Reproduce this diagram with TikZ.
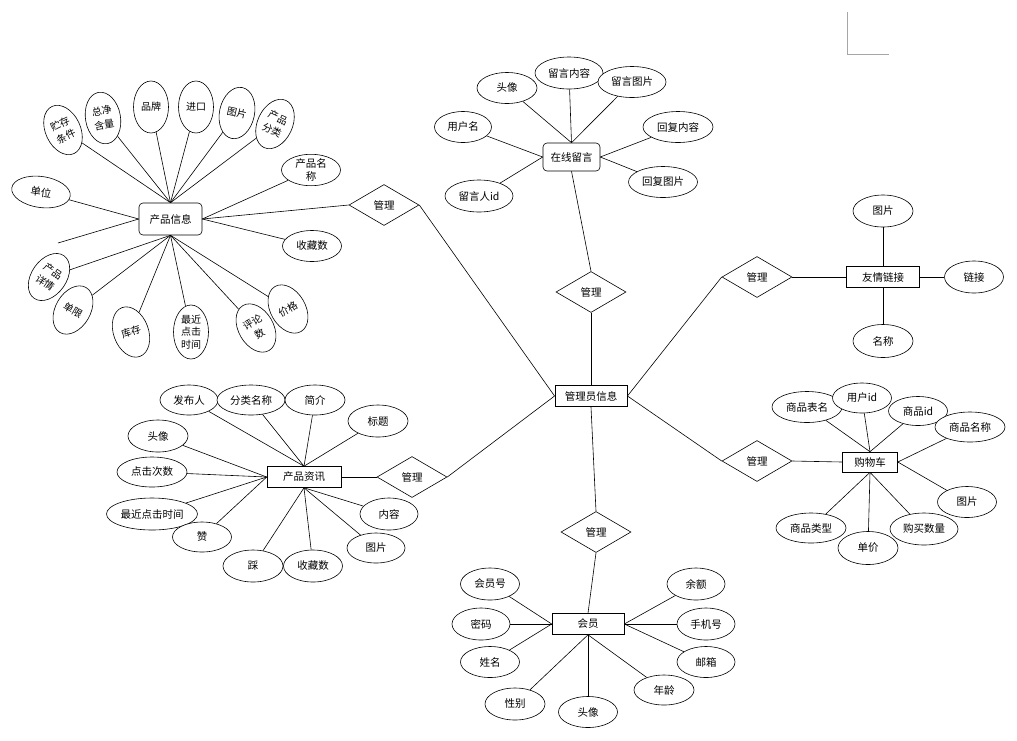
\documentclass[tikz,border=0pt]{standalone}
\usepackage{fontspec}
\setmainfont{Noto Sans CJK SC}
\usetikzlibrary{shapes.geometric}
\begin{document}
\begin{tikzpicture}[x=1pt,y=-1pt, line width=0.6pt,
 every node/.style={font=\fontsize{10.5}{12.5}\selectfont},
 attr/.style={draw, fill=white, ellipse, minimum width=59pt, minimum height=31pt, inner sep=0pt, align=center},
 vattr/.style={draw, fill=white, ellipse, minimum width=35pt, minimum height=52pt, inner sep=0pt, align=center, font=\fontsize{10}{14}\selectfont},
 ent/.style={draw, fill=white, rectangle, minimum height=21pt, inner sep=0pt},
 rent/.style={draw, fill=white, rectangle, rounded corners=4pt, inner sep=0pt},
 rel/.style={draw, fill=white, diamond, minimum width=70pt, minimum height=41pt, inner sep=0pt},
]
\useasboundingbox (0,0) rectangle (1017,740);
\draw[gray!70, line width=0.8pt] (847,12) -- (847,54) -- (889,54);

% ---------- 产品信息 ----------
\node[rent, minimum width=63pt, minimum height=32pt] (pi) at (170.5,219) {产品信息};
\node[vattr, rotate=25] (p1) at (63,130) {贮存\\条件};
\node[vattr, rotate=10] (p2) at (103,118) {总净\\含量};
\node[vattr] (p3) at (151,107) {品牌};
\node[vattr] (p4) at (196,107) {进口};
\node[vattr, rotate=-12] (p5) at (237,113) {图片};
\node[vattr, rotate=-25] (p6) at (275,124) {产品\\分类};
\node[attr] (p7) at (311,170) {产品名\\称};
\node[attr, rotate=-8] (p8) at (41,192) {单位};
\node[attr] (p9) at (312,246) {收藏数};
\node[vattr, rotate=-35] (p10) at (49,277) {产品\\详情};
\node[vattr, rotate=-30] (p11) at (73,310) {单限};
\node[vattr, rotate=20] (p12) at (131,332) {库存};
\node[vattr, minimum height=54pt, font=\fontsize{10}{12.5}\selectfont] (p13) at (191,332) {最近\\点击\\时间};
\node[vattr, rotate=30] (p14) at (256,328) {评论\\数};
\node[vattr, rotate=30] (p15) at (288,309) {价格};
\coordinate (pfree) at (58,243);
\foreach \i in {1,...,6} \draw (pi.north) -- (p\i);
\draw (pi.east) -- (p7);
\draw (pi.west) -- (p8);
\draw (pi.east) -- (p9);
\draw (pi.west) -- (pfree);
\foreach \i in {10,...,15} \draw (pi.south) -- (p\i);

% ---------- 管理员信息 ----------
\node[ent, minimum width=72pt, line width=0.9pt] (adm) at (591,396) {管理员信息};
\node[rel] (r1) at (384,205) {管理};
\draw (pi.east) -- (r1.west);
\draw (r1.east) -- (adm.west);

% ---------- 在线留言 ----------
\node[rent, minimum width=57pt, minimum height=28pt] (ol) at (571.5,157) {在线留言};
\node[attr, minimum width=60pt] (o1) at (507,88) {头像};
\node[attr, minimum width=68pt, minimum height=32pt] (o2) at (569,73) {留言内容};
\node[attr, minimum width=68pt] (o3) at (632,82) {留言图片};
\node[attr, minimum width=57pt] (o4) at (463,127) {用户名};
\node[attr, minimum width=70pt] (o5) at (678,127) {回复内容};
\node[attr, minimum width=69pt] (o6) at (663,182) {回复图片};
\node[attr, minimum width=68pt, minimum height=32pt] (o7) at (479,196) {留言人id};
\draw (ol.north) -- (o1);
\draw (ol.north) -- (o2);
\draw (ol.north) -- (o3);
\draw (ol.west) -- (o4);
\draw (ol.west) -- (o7);
\draw (ol.east) -- (o5);
\draw (ol.east) -- (o6);
\node[rel] (r2) at (591,292) {管理};
\draw (ol.south) -- (r2.north);
\draw (r2.south) -- (adm.north);

% ---------- 友情链接 ----------
\node[rel] (r3) at (757,277) {管理};
\node[ent, minimum width=73pt] (fl) at (883,277) {友情链接};
\node[attr, minimum width=60pt, minimum height=32pt] (f1) at (883,211) {图片};
\node[attr, minimum width=59pt, minimum height=32pt] (f2) at (974,277) {链接};
\node[attr, minimum width=60pt, minimum height=33pt] (f3) at (883,341) {名称};
\draw (adm.east) -- (r3.west);
\draw (r3.east) -- (fl.west);
\draw (fl.north) -- (f1);
\draw (fl.east) -- (f2);
\draw (fl.south) -- (f3);

% ---------- 购物车 ----------
\node[rel] (r4) at (757,461) {管理};
\node[ent, minimum width=55pt, minimum height=20pt] (cart) at (870,462) {购物车};
\node[attr, minimum width=70pt] (c1) at (807,407) {商品表名};
\node[attr, minimum width=59pt, minimum height=30pt] (c2) at (862,398) {用户id};
\node[attr, minimum width=59pt, minimum height=29pt] (c3) at (918,411) {商品id};
\node[attr, minimum width=70pt, minimum height=30pt] (c4) at (970,427) {商品名称};
\node[attr, minimum width=59pt] (c5) at (967,502) {图片};
\node[attr, minimum width=70pt, minimum height=30pt] (c8) at (811,528) {商品类型};
\node[attr, minimum width=60pt, minimum height=33pt] (c7) at (868,548) {单价};
\node[attr, minimum width=68pt, minimum height=32pt] (c6) at (924,529) {购买数量};
\draw (adm.east) -- (r4.west);
\draw (r4.east) -- (cart.west);
\draw (cart.north) -- (c1);
\draw (cart.north) -- (c2);
\draw (cart.north) -- (c3);
\draw (cart.east) -- (c4);
\draw (cart.east) -- (c5);
\draw (cart.south) -- (c6);
\draw (cart.south) -- (c7);
\draw (cart.south) -- (c8);

% ---------- 产品资讯 ----------
\node[ent, minimum width=74pt] (news) at (304,477) {产品资讯};
\node[rel] (r5) at (412,477) {管理};
\node[attr, minimum width=58pt, minimum height=30pt] (n1) at (189,400) {发布人};
\node[attr, minimum width=68pt, minimum height=30pt] (n2) at (251,400) {分类名称};
\node[attr, minimum width=60pt, minimum height=30pt] (n3) at (315,400) {简介};
\node[attr, minimum width=60pt, minimum height=32pt] (n4) at (378,421) {标题};
\node[attr, minimum width=60pt, minimum height=32pt] (n5) at (158,436) {头像};
\node[attr, minimum width=70pt, minimum height=30pt] (n6) at (152,472) {点击次数};
\node[attr, minimum width=91pt, minimum height=32pt] (n7) at (152,514) {最近点击时间};
\node[attr, minimum width=59pt, minimum height=30pt] (n8) at (202,537) {赞};
\node[attr, minimum width=60pt, minimum height=32pt] (n9) at (253,566) {踩};
\node[attr, minimum width=59pt, minimum height=32pt] (n10) at (313,566) {收藏数};
\node[attr, minimum width=58pt, minimum height=30pt] (n11) at (376,548) {图片};
\node[attr, minimum width=58pt, minimum height=32pt] (n12) at (389,514) {内容};
\foreach \i in {1,...,4} \draw (news.north) -- (n\i);
\foreach \i in {5,...,8} \draw (news.west) -- (n\i);
\foreach \i in {9,...,12} \draw (news.south) -- (n\i);
\draw (news.east) -- (r5.west);
\draw (r5.east) -- (adm.west);

% ---------- 会员 ----------
\node[rel] (r6) at (596,532) {管理};
\node[ent, minimum width=72pt] (mem) at (588,624) {会员};
\node[attr, minimum width=59pt, minimum height=32pt] (m1) at (490,584) {会员号};
\node[attr, minimum width=58pt, minimum height=32pt] (m2) at (481,624) {密码};
\node[attr, minimum width=59pt, minimum height=31pt] (m3) at (490,662) {姓名};
\node[attr, minimum width=60pt, minimum height=32pt] (m4) at (515,704) {性别};
\node[attr, minimum width=59pt, minimum height=31pt] (m5) at (588,712) {头像};
\node[attr, minimum width=60pt, minimum height=30pt] (m6) at (664,690) {年龄};
\node[attr, minimum width=58pt, minimum height=31pt] (m7) at (706,662) {邮箱};
\node[attr, minimum width=58pt, minimum height=32pt] (m8) at (706,624) {手机号};
\node[attr, minimum width=58pt, minimum height=32pt] (m9) at (696,584) {余额};
\draw (adm.south) -- (r6.north);
\draw (r6.south) -- (mem.north);
\foreach \i in {1,2,3} \draw (mem.west) -- (m\i);
\foreach \i in {4,5,6} \draw (mem.south) -- (m\i);
\foreach \i in {7,8,9} \draw (mem.east) -- (m\i);
\end{tikzpicture}
\end{document}
